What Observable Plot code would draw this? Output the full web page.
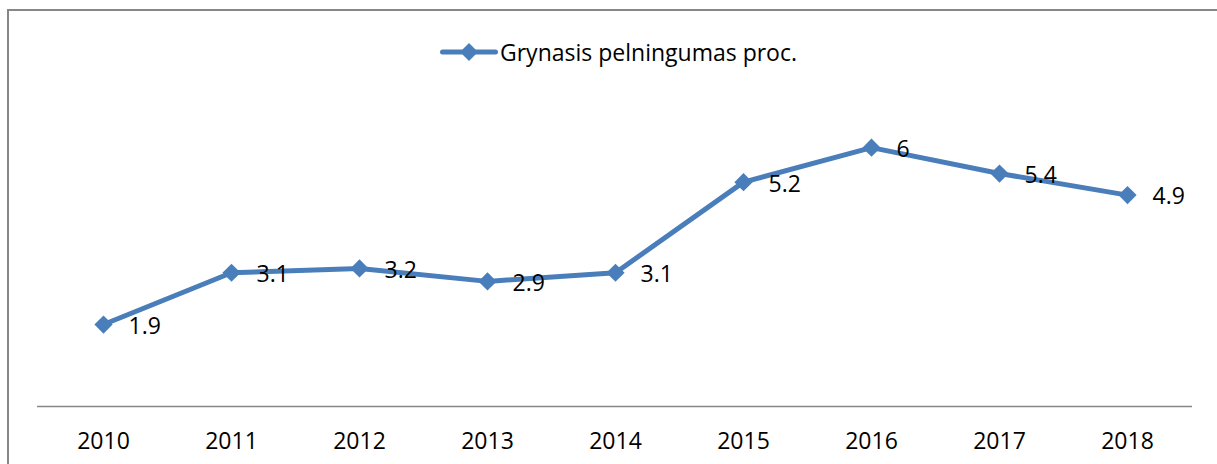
<!DOCTYPE html>
<html>
<head>
<meta charset="utf-8">
<script src="https://cdn.jsdelivr.net/npm/d3@7"></script>
<script src="https://cdn.jsdelivr.net/npm/@observablehq/plot@0.6"></script>
<style>
  html, body { margin: 0; padding: 0; background: #fff; }
  body { width: 1217px; height: 464px; overflow: hidden; position: relative; font-family: "Open Sans", sans-serif; }
  #frame { position: absolute; left: 7px; top: 9px; width: 1300px; height: 600px; border: 2px solid #878787; box-sizing: border-box; }
  #chart { position: absolute; left: 0; top: 0; }
  #legend { position: absolute; left: 440px; top: 36px; display: flex; align-items: center; font-size: 23px; color: #000; white-space: nowrap; }
  #legend svg { margin-right: 2px; }
</style>
</head>
<body>
<div id="frame"></div>
<div id="chart"></div>
<div id="legend"></div>
<script>
const seriesName = "Grynasis pelningumas proc.";
const years = ["2010", "2011", "2012", "2013", "2014", "2015", "2016", "2017", "2018"];
const values = [1.9, 3.1, 3.2, 2.9, 3.1, 5.2, 6, 5.4, 4.9];
const labels = ["1.9", "3.1", "3.2", "2.9", "3.1", "5.2", "6", "5.4", "4.9"];

const color = "#4a7ebb";
const data = years.map((y, i) => ({year: y, value: values[i], label: labels[i]}));

const chart = Plot.plot({
  width: 1217,
  height: 464,
  marginLeft: 37,
  marginRight: 25,
  marginTop: 104,
  marginBottom: 58,
  style: {fontFamily: "Open Sans, sans-serif", fontSize: "23px", color: "#000", background: "transparent"},
  x: {type: "point", domain: years, padding: 0.5, label: null},
  y: {domain: [0, 7], axis: null},
  marks: [
    Plot.ruleY([0], {stroke: "#878787", strokeWidth: 1.5}),
    Plot.axisX({tickSize: 0, tickPadding: 26, fontSize: 23, fill: "#000", label: null}),
    Plot.line(data, {x: "year", y: "value", stroke: color, strokeWidth: 5, strokeLinejoin: "round", strokeLinecap: "round"}),
    Plot.dot(data, {x: "year", y: "value", symbol: "diamond2", r: 8.2, fill: color, stroke: "none"}),
    Plot.text(data, {x: "year", y: "value", text: "label", dx: 25, dy: 2, textAnchor: "start", fontSize: 23, fill: "#000"})
  ]
});
document.getElementById("chart").appendChild(chart);

const leg = document.getElementById("legend");
leg.innerHTML = `<svg width="58" height="24" viewBox="0 0 58 24">
  <line x1="2.5" y1="12" x2="55.5" y2="12" stroke="${color}" stroke-width="5" stroke-linecap="round"/>
  <path d="M29,3 L38,12 L29,21 L20,12 Z" fill="${color}"/>
</svg><span>${seriesName}</span>`;
</script>
</body>
</html>
